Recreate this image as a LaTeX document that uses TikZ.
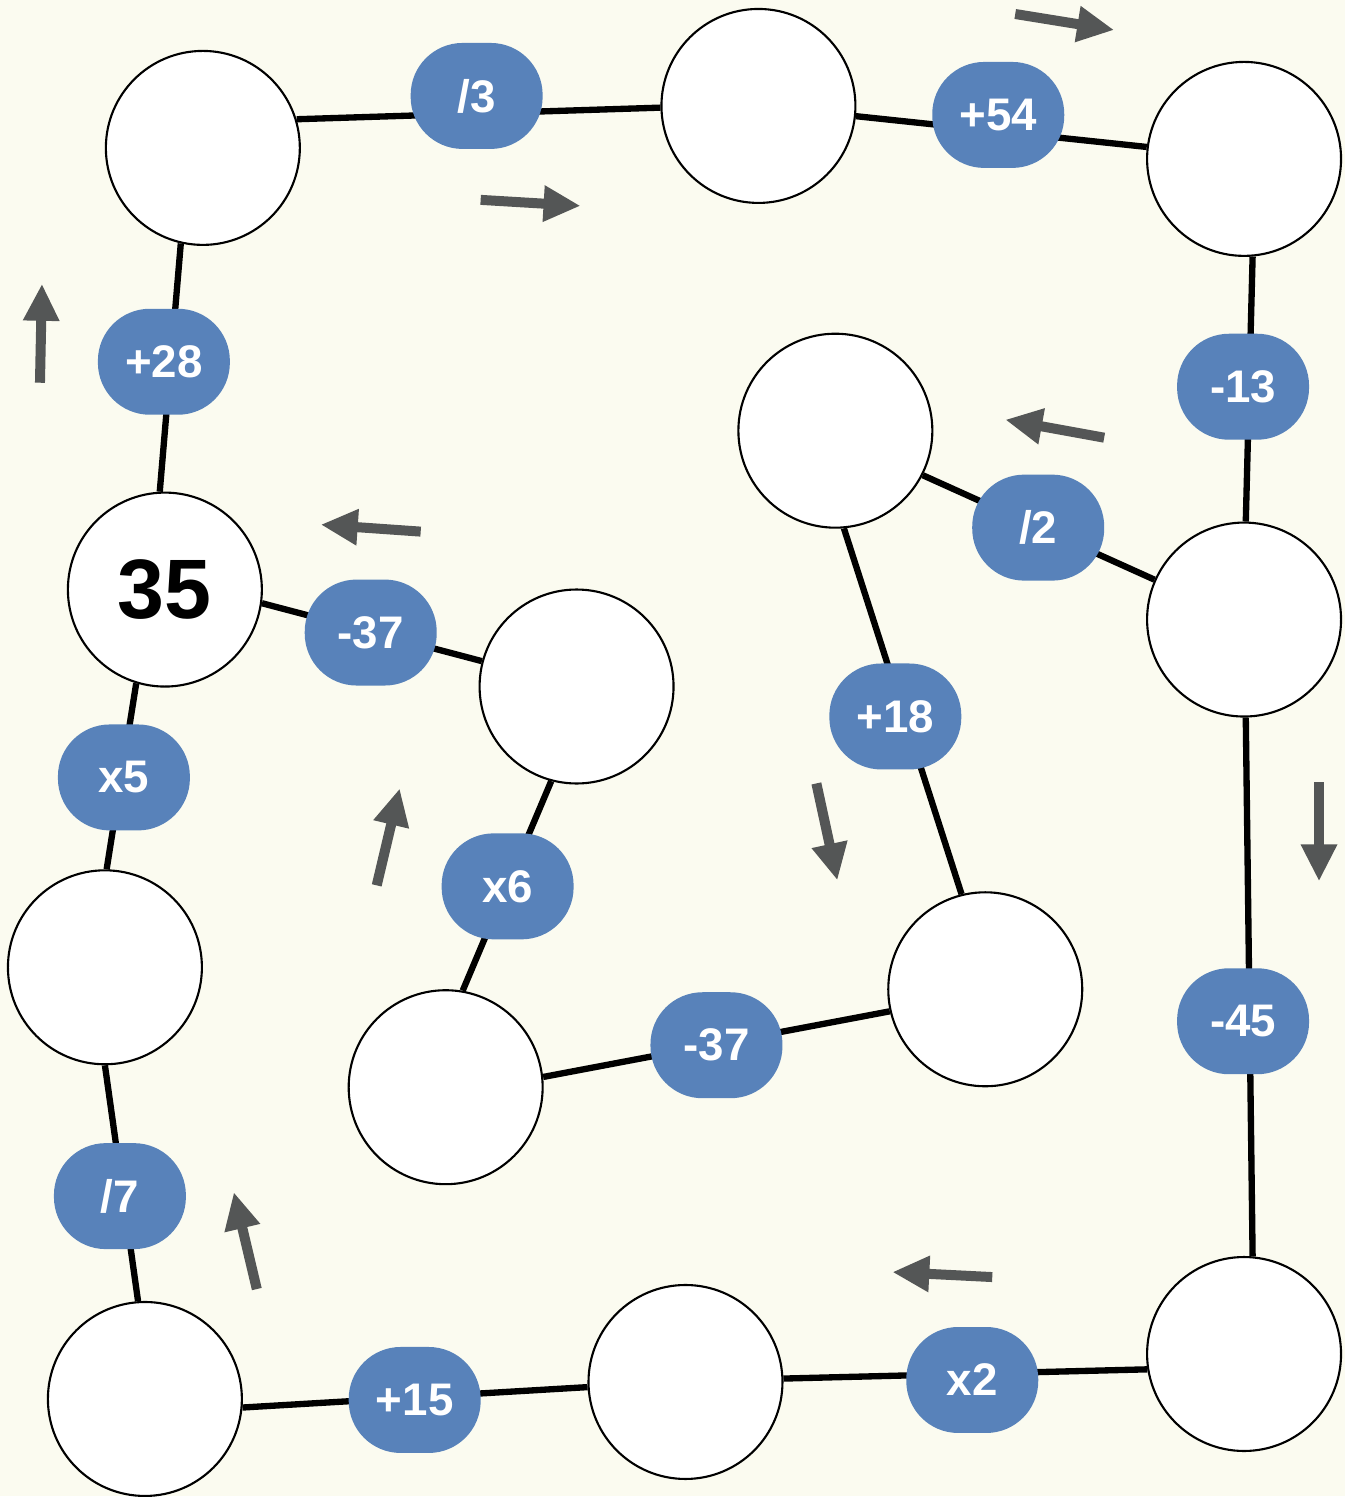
\documentclass[tikz,border=0pt]{standalone}
\usepackage{fontspec}
\setmainfont{Liberation Sans}
\usetikzlibrary{arrows.meta}
\definecolor{paper}{HTML}{FBFBF0}
\definecolor{opblue}{HTML}{5882BA}
\definecolor{hint}{HTML}{545656}
\tikzset{
  cell/.style={circle,draw,fill=white,line width=0.6pt,minimum size=1.94cm,inner sep=0pt},
  op/.style={rectangle,rounded corners=0.52cm,fill=opblue,text=white,minimum width=1.32cm,minimum height=1.06cm,font=\fontsize{13}{13}\selectfont\bfseries},
  link/.style={line width=1.8pt},
  hintarrow/.style={hint,line width=0.1cm,-{Triangle[length=0.37cm,width=0.34cm]}}
}
\begin{document}
\begin{tikzpicture}[x=0.01cm,y=-0.01cm]
            \fill[paper] (0,0) rectangle (1346,1497);
            % cells
            \node[cell] (a) at (203,148) {};
            \node[cell] (b) at (759,106) {};
            \node[cell] (c) at (1245,159) {};
            \node[cell] (d) at (836,431) {};
            \node[cell] (e) at (1245,620) {};
            \node[cell,font=\fontsize{24}{24}\selectfont\bfseries] (f) at (165,590) {35};
            \node[cell] (g) at (577,687) {};
            \node[cell] (h) at (105,968) {};
            \node[cell] (i) at (446,1088) {};
            \node[cell] (j) at (986,990) {};
            \node[cell] (k) at (145,1400) {};
            \node[cell] (l) at (686,1383) {};
            \node[cell] (m) at (1245,1355) {};
            % links
            \draw[link] (a.17) -- (b.181);
            \draw[link] (b.-6) -- (c.173);
            \draw[link] (c.-85) -- (e.89);
            \draw[link] (e.156) -- (d.-27);
            \draw[link] (d.-85) -- (j.104);
            \draw[link] (j.193) -- (i.6);
            \draw[link] (i.80) -- (g.255);
            \draw[link] (g.165) -- (f.-8);
            \draw[link] (f.93) -- (a.257);
            \draw[link] (f.253) -- (h.89);
            \draw[link] (h.-90) -- (k.94);
            \draw[link] (k.-5) -- (l.183);
            \draw[link] (l.2) -- (m.189);
            \draw[link] (m.85) -- (e.271);
            % operations
            \node[op] (ab) at (477,96) {/3};
            \node[op] (bc) at (999,115) {+54};
            \node[op] (ce) at (1244,387) {-13};
            \node[op] (ed) at (1039,528) {/2};
            \node[op] (dj) at (896,717) {+18};
            \node[op] (ji) at (717,1046) {-37};
            \node[op] (ig) at (508,887) {x6};
            \node[op] (gf) at (371,633) {-37};
            \node[op] (fa) at (164,362) {+28};
            \node[op] (fh) at (124,778) {x5};
            \node[op] (hk) at (120,1197) {/7};
            \node[op] (kl) at (415,1401) {+15};
            \node[op] (lm) at (973,1381) {x2};
            \node[op] (me) at (1244,1022) {-45};
            % direction hints
            \draw[hintarrow] (1016,14) -- (1115,30);
            \draw[hintarrow] (481,200) -- (581,206);
            \draw[hintarrow] (40,383) -- (42,284);
            \draw[hintarrow] (1105,438) -- (1006,420);
            \draw[hintarrow] (421,532) -- (321,525);
            \draw[hintarrow] (1320,783) -- (1320,882);
            \draw[hintarrow] (817,784) -- (838,881);
            \draw[hintarrow] (377,886) -- (400,789);
            \draw[hintarrow] (257,1290) -- (234,1193);
            \draw[hintarrow] (993,1278) -- (893,1273);
          \end{tikzpicture}
\end{document}
